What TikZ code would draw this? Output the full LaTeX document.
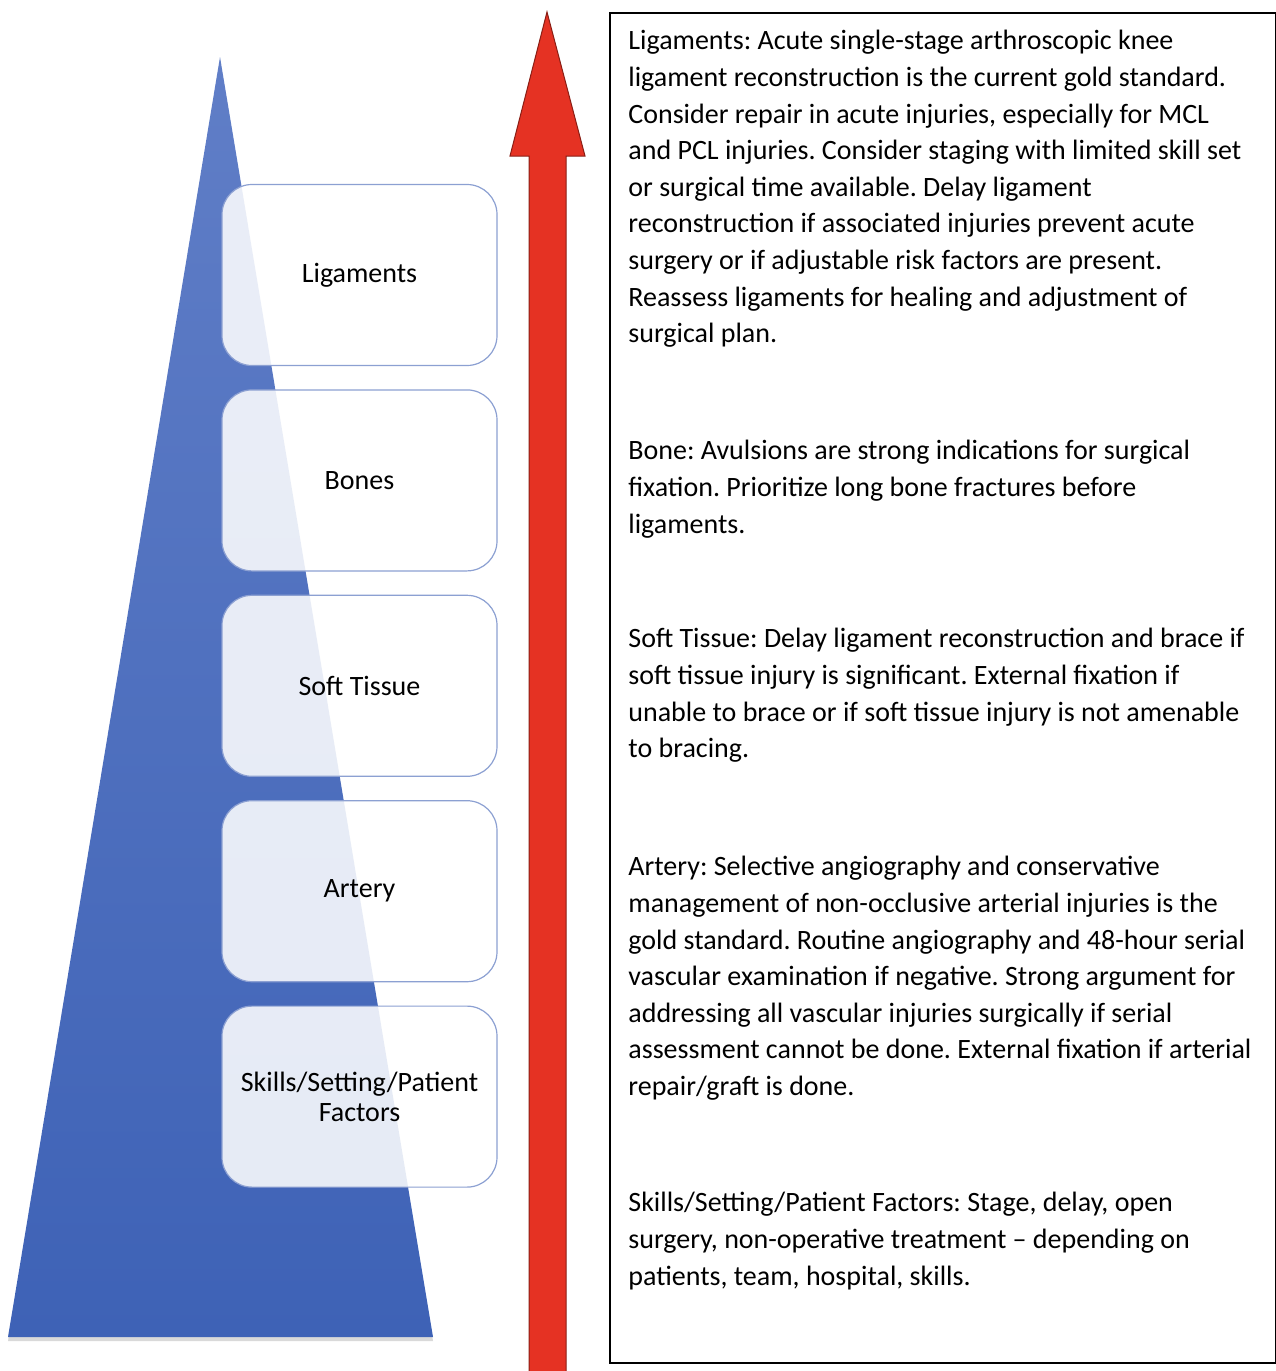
\documentclass[tikz,border=0pt]{standalone}
\usepackage{fontspec}
\setmainfont{Carlito}
\usetikzlibrary{positioning,shadows}
\definecolor{tritop}{RGB}{96,126,199}
\definecolor{tribot}{RGB}{62,98,182}
\definecolor{arrowred}{RGB}{229,50,35}
\definecolor{boxline}{RGB}{140,160,210}
\tikzset{
  level/.style={draw=boxline, line width=0.6pt, fill=white, fill opacity=0.87,
    text opacity=1, rounded corners=15pt, minimum width=137.5pt,
    minimum height=90.5pt, align=center, inner sep=2pt},
  note/.style={anchor=north west, align=left, inner sep=0pt}
}
\begin{document}
\frenchspacing
\begin{tikzpicture}[x=0.5pt, y=-0.5pt, font=\fontsize{14}{18.3}\selectfont]
    \useasboundingbox (0,0) rectangle (1275,1371);
    % pyramid
    \shade[top color=tritop, bottom color=tribot,
      drop shadow={opacity=0.3, shadow xshift=0pt, shadow yshift=-2pt}]
      (8,1337) -- (220,57) -- (433,1337) -- cycle;
    % priority arrow
    \filldraw[fill=arrowred, draw=arrowred!60!black, line width=0.5pt]
      (529,1375) -- (529,156) -- (510,156) -- (547,12) -- (585,156)
      -- (566,156) -- (566,1375) -- cycle;
    % levels
    \node[level] (lig) at (359.5,275) {Ligaments};
    \node[level, below=11.6pt of lig] (bone) {Bones};
    \node[level, below=11.6pt of bone] (soft) {Soft Tissue};
    \node[level, below=11.6pt of soft] (art) {Artery};
    \node[level, below=11.6pt of art] (skill) {Skills/Setting/Patient\\[-3.5pt]Factors};
    % notes
    \node[draw, line width=0.8pt, anchor=north west, minimum width=333pt,
      minimum height=675pt] (panel) at (609,12) {};
    \node[note] (ligtxt) at (628,30) {Ligaments: Acute single-stage arthroscopic knee\\
      ligament reconstruction is the current gold standard.\\
      Consider repair in acute injuries, especially for MCL\\
      and PCL injuries. Consider staging with limited skill set\\
      or surgical time available. Delay ligament\\
      reconstruction if associated injuries prevent acute\\
      surgery or if adjustable risk factors are present.\\
      Reassess ligaments for healing and adjustment of\\
      surgical plan.};
    \node[note] (bonetxt) at (628,440) {Bone: Avulsions are strong indications for surgical\\
      fixation. Prioritize long bone fractures before\\
      ligaments.};
    \node[note] (softtxt) at (628,628) {Soft Tissue: Delay ligament reconstruction and brace if\\
      soft tissue injury is significant. External fixation if\\
      unable to brace or if soft tissue injury is not amenable\\
      to bracing.};
    \node[note] (arttxt) at (628,856) {Artery: Selective angiography and conservative\\
      management of non-occlusive arterial injuries is the\\
      gold standard. Routine angiography and 48-hour serial\\
      vascular examination if negative. Strong argument for\\
      addressing all vascular injuries surgically if serial\\
      assessment cannot be done. External fixation if arterial\\
      repair/graft is done.};
    \node[note] (skilltxt) at (628,1192) {Skills/Setting/Patient Factors: Stage, delay, open\\
      surgery, non-operative treatment -- depending on\\
      patients, team, hospital, skills.};
\end{tikzpicture}
\end{document}
